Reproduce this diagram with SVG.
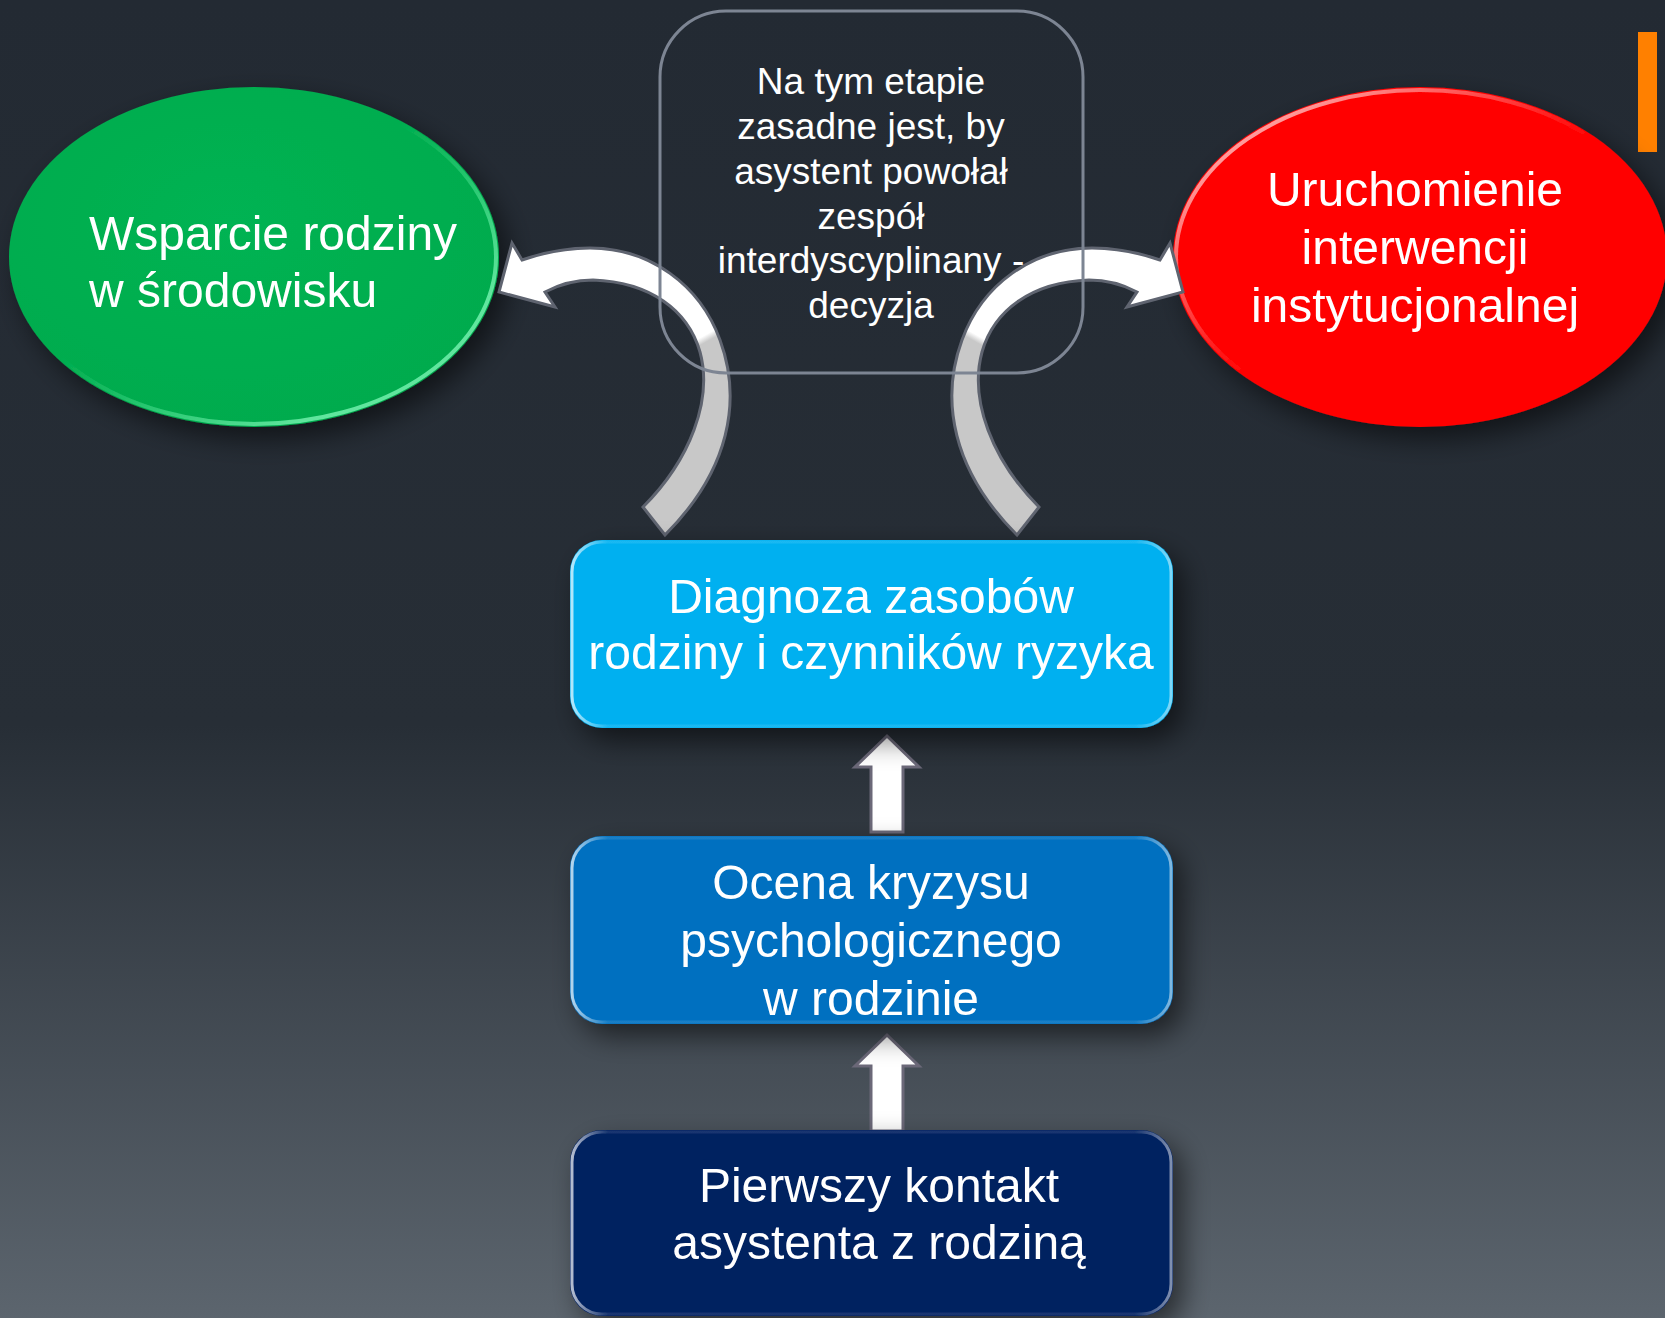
<svg xmlns="http://www.w3.org/2000/svg" width="1665" height="1318" viewBox="0 0 1665 1318">
<style>
.t{font-family:"Liberation Sans",Arial,sans-serif;fill:#ffffff}
.big{font-size:48px}
.mid{font-size:37px}
.arrow{stroke:#5f6470;stroke-width:3;stroke-linejoin:miter}
.up{fill:#ffffff;stroke:#6b6878;stroke-width:3}
</style>
<defs>
<linearGradient id="bg" x1="0" y1="0" x2="0" y2="1">
<stop offset="0" stop-color="#232a33"/>
<stop offset="0.55" stop-color="#272e36"/>
<stop offset="1" stop-color="#5c656e"/>
</linearGradient>
<linearGradient id="curveFill" gradientUnits="userSpaceOnUse" x1="702" y1="317" x2="722" y2="353">
<stop offset="0.42" stop-color="#ffffff"/>
<stop offset="0.58" stop-color="#c8c8c8"/>
</linearGradient>
<radialGradient id="greenG" cx="0.45" cy="0.4" r="0.6">
<stop offset="0" stop-color="#00b352"/>
<stop offset="1" stop-color="#00ab4e"/>
</radialGradient>
<linearGradient id="greenRim" x1="0" y1="0" x2="1" y2="1">
<stop offset="0.45" stop-color="#6fffb0" stop-opacity="0"/>
<stop offset="0.8" stop-color="#8affc0" stop-opacity="0.7"/>
</linearGradient>
<linearGradient id="redRim" x1="1" y1="1" x2="0" y2="0">
<stop offset="0.5" stop-color="#ffb0b0" stop-opacity="0"/>
<stop offset="0.85" stop-color="#ffc0c0" stop-opacity="0.8"/>
</linearGradient>
<linearGradient id="boxRim" x1="0" y1="0" x2="1" y2="0">
<stop offset="0" stop-color="#ffffff" stop-opacity="0.7"/>
<stop offset="0.06" stop-color="#ffffff" stop-opacity="0.1"/>
<stop offset="0.94" stop-color="#ffffff" stop-opacity="0.1"/>
<stop offset="1" stop-color="#ffffff" stop-opacity="0.5"/>
</linearGradient>
<filter id="shadow" x="-20%" y="-20%" width="150%" height="160%">
<feGaussianBlur in="SourceAlpha" stdDeviation="14"/>
<feOffset dx="10" dy="12" result="b"/>
<feComponentTransfer><feFuncA type="linear" slope="0.55"/></feComponentTransfer>
<feMerge><feMergeNode/><feMergeNode in="SourceGraphic"/></feMerge>
</filter>
</defs>

<rect x="0" y="0" width="1665" height="1318" fill="url(#bg)"/>
<rect x="1638" y="32" width="19" height="120" fill="#ff8000"/>

<g id="node-wsparcie" filter="url(#shadow)">
<ellipse cx="254" cy="257" rx="245" ry="170" fill="url(#greenG)"/>
<ellipse cx="254" cy="257" rx="242" ry="167" fill="none" stroke="url(#greenRim)" stroke-width="4"/>
<text class="t big" x="89" y="250">Wsparcie rodziny</text>
<text class="t big" x="89" y="307">w środowisku</text>
</g>

<g id="node-uruchomienie" filter="url(#shadow)">
<ellipse cx="1420" cy="257" rx="247" ry="170" fill="#ff0000"/>
<ellipse cx="1420" cy="257" rx="244" ry="167" fill="none" stroke="url(#redRim)" stroke-width="4"/>
<text class="t big" x="1415" y="206" text-anchor="middle">Uruchomienie</text>
<text class="t big" x="1415" y="264" text-anchor="middle">interwencji</text>
<text class="t big" x="1415" y="322" text-anchor="middle">instytucjonalnej</text>
</g>

<g id="connectors">
<path class="arrow" fill="url(#curveFill)" d="M 522,260 C 545,252 568,248 590,248 C 650,248 700,285 720,340 C 742,400 730,470 665,535 L 643,507 C 690,460 713,400 700,352 C 688,310 650,282 593,280 C 575,280 560,284 545,292 L 555,307 L 499,292 L 512,243 Z"/>
<path class="arrow" fill="url(#curveFill)" transform="translate(1682,0) scale(-1,1)" d="M 522,260 C 545,252 568,248 590,248 C 650,248 700,285 720,340 C 742,400 730,470 665,535 L 643,507 C 690,460 713,400 700,352 C 688,310 650,282 593,280 C 575,280 560,284 545,292 L 555,307 L 499,292 L 512,243 Z"/>
<path class="up" d="M 887,736 L 919,767 L 903,767 L 903,832 L 871,832 L 871,767 L 855,767 Z"/>
<path class="up" d="M 887,1035 L 919,1066 L 903,1066 L 903,1131 L 871,1131 L 871,1066 L 855,1066 Z"/>
</g>

<g id="node-decyzja">
<rect x="660" y="11" width="423" height="362" rx="66" ry="66" fill="none" stroke="#7d8593" stroke-width="3"/>
<text class="t mid" x="871" y="94" text-anchor="middle">Na tym etapie</text>
<text class="t mid" x="871" y="139" text-anchor="middle">zasadne jest, by</text>
<text class="t mid" x="871" y="184" text-anchor="middle">asystent powołał</text>
<text class="t mid" x="871" y="229" text-anchor="middle">zespół</text>
<text class="t mid" x="871" y="273" text-anchor="middle">interdyscyplinany -</text>
<text class="t mid" x="871" y="318" text-anchor="middle">decyzja</text>
</g>

<g id="node-diagnoza" filter="url(#shadow)">
<rect x="570" y="540" width="603" height="188" rx="32" ry="32" fill="#00b0f0"/>
<rect x="572" y="542" width="599" height="184" rx="30" ry="30" fill="none" stroke="url(#boxRim)" stroke-width="3"/>
<text class="t big" x="871" y="613" text-anchor="middle">Diagnoza zasobów</text>
<text class="t big" x="871" y="669" text-anchor="middle">rodziny i czynników ryzyka</text>
</g>

<g id="node-ocena" filter="url(#shadow)">
<rect x="570" y="836" width="603" height="188" rx="32" ry="32" fill="#0070c0"/>
<rect x="572" y="838" width="599" height="184" rx="30" ry="30" fill="none" stroke="url(#boxRim)" stroke-width="3"/>
<text class="t big" x="871" y="899" text-anchor="middle">Ocena kryzysu</text>
<text class="t big" x="871" y="957" text-anchor="middle">psychologicznego</text>
<text class="t big" x="871" y="1015" text-anchor="middle">w rodzinie</text>
</g>

<g id="node-pierwszy" filter="url(#shadow)">
<rect x="570" y="1130" width="603" height="186" rx="32" ry="32" fill="#002060"/>
<rect x="572" y="1132" width="599" height="182" rx="30" ry="30" fill="none" stroke="url(#boxRim)" stroke-width="3"/>
<text class="t big" x="879" y="1202" text-anchor="middle">Pierwszy kontakt</text>
<text class="t big" x="879" y="1259" text-anchor="middle">asystenta z rodziną</text>
</g>
</svg>
